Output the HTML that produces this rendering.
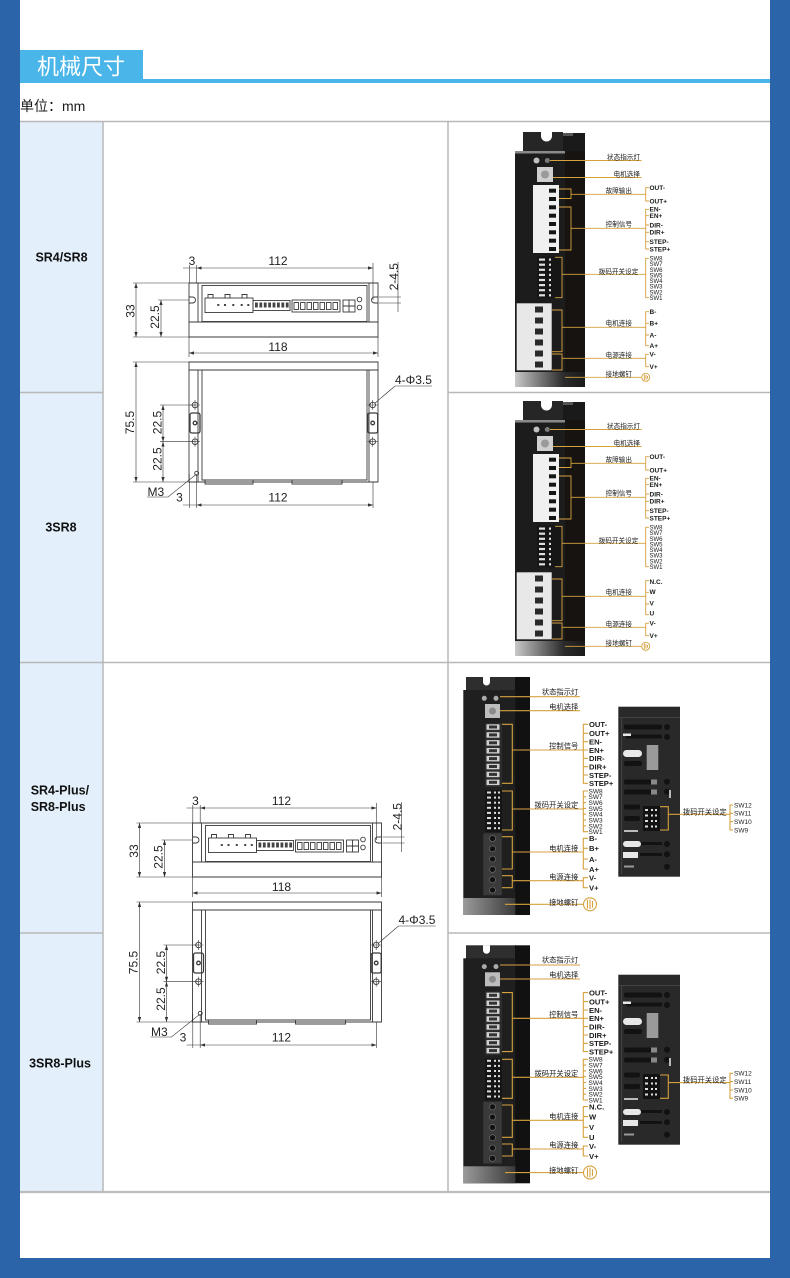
<!DOCTYPE html>
<html><head><meta charset="utf-8">
<style>
html,body{margin:0;padding:0;background:#fff;}
body{width:790px;height:1278px;overflow:hidden;position:relative;}
svg{display:block;}
.dim{font-family:"Liberation Sans",sans-serif;font-size:12px;fill:#222;}
.cn{font-family:"Liberation Sans","Noto Sans CJK SC",sans-serif;fill:#1a1a1a;}
.en{font-family:"Liberation Sans",sans-serif;fill:#1a1a1a;}
.lbl{font-family:"Liberation Sans",sans-serif;font-size:12.5px;font-weight:bold;fill:#111;}
</style></head><body>
<svg width="790" height="1278" viewBox="0 0 790 1278" xmlns="http://www.w3.org/2000/svg">
<defs>
<marker id="ar" viewBox="0 0 6 4" refX="6" refY="2" markerWidth="5" markerHeight="3.4" orient="auto-start-reverse" markerUnits="userSpaceOnUse"><path d="M0,0 L6,2 L0,4 Z" fill="#333"/></marker>
<linearGradient id="gb1" x1="0" y1="0" x2="1" y2="0"><stop offset="0" stop-color="#c8c8c8"/><stop offset="0.7" stop-color="#2a2a2a"/><stop offset="1" stop-color="#1a1a1a"/></linearGradient>
<linearGradient id="gb3" x1="0" y1="0" x2="1" y2="0"><stop offset="0" stop-color="#9a9a9a"/><stop offset="1" stop-color="#3a3a3a"/></linearGradient>
</defs>

<!-- page frame -->
<rect width="790" height="1278" fill="#fff"/>
<rect x="0" y="0" width="20" height="1278" fill="#2b64a8"/>
<rect x="770" y="0" width="20" height="1278" fill="#2b64a8"/>
<rect x="0" y="1258" width="790" height="20" fill="#2b64a8"/>

<!-- title -->
<rect x="20" y="50" width="123" height="30" fill="#49b5e9"/>
<rect x="20" y="79" width="750" height="4" fill="#49b5e9"/>
<text x="37" y="74.5" class="cn" font-size="22" style="fill:#fff">机械尺寸</text>
<text x="20" y="111" class="cn" font-size="14">单位：mm</text>

<!-- table -->
<rect x="20" y="122" width="83" height="1070" fill="#e3effa"/>
<g stroke="#b8b8b8" stroke-width="1.5" fill="none">
<path d="M20,121.5H770 M20,392.5H103 M448,392.5H770 M20,662.5H770 M20,933H103 M448,933H770 M103,121V1192 M448,121V1192"/>
<path d="M20,1192H770" stroke-width="2.2" stroke="#bdbdbd"/>
</g>
<text class="lbl" x="61.5" y="261.5" text-anchor="middle">SR4/SR8</text>
<text class="lbl" x="61" y="531.5" text-anchor="middle">3SR8</text>
<text class="lbl" x="30.7" y="794.5">SR4-Plus/</text>
<text class="lbl" x="30.7" y="811">SR8-Plus</text>
<text class="lbl" x="60" y="1067.5" text-anchor="middle">3SR8-Plus</text>

<!-- ========== DRAWING 1 ========== -->
<g>
<g fill="none" stroke="#3a3a3a" stroke-width="0.9">
<path d="M189,283H378V337H189Z M189,322H378 M198,283V322 M369,283V322"/>
<rect x="202" y="285.5" width="165" height="36"/>
<path d="M189,297H192.5A3,3 0 0 1 192.5,303H189 M378,297H374.5A3,3 0 0 0 374.5,303H378"/>
<rect x="205" y="298" width="48" height="14.5"/>
<path d="M208,298V294.5H213V298 M225,298V294.5H230V298 M242,298V294.5H247V298"/>
<rect x="253" y="300.5" width="37" height="10"/>
<rect x="292" y="300" width="48" height="12"/>
<rect x="294" y="302.5" width="4.5" height="7"/><rect x="300.5" y="302.5" width="4.5" height="7"/><rect x="307" y="302.5" width="4.5" height="7"/><rect x="313.5" y="302.5" width="4.5" height="7"/><rect x="320" y="302.5" width="4.5" height="7"/><rect x="326.5" y="302.5" width="4.5" height="7"/><rect x="333" y="302.5" width="4.5" height="7"/>
<rect x="343" y="300" width="12" height="12"/>
<path d="M349,300V312M343,306H355"/>
<circle cx="359.5" cy="299.5" r="2.3"/>
<circle cx="359.5" cy="307.5" r="2.3"/>
<path d="M189,362H378V482H189Z M189,370H378 M198,370V482 M369,370V482 M202,370V480H367V370"/>
<path d="M205,480V484H253V480 M292,480V484H342V480"/>
<rect x="190" y="413" width="10" height="20" rx="2" stroke-width="1.3"/>
<rect x="367.7" y="413" width="10" height="20" rx="2" stroke-width="1.3"/>
<circle cx="195" cy="423" r="1.8" stroke-width="1.3"/>
<circle cx="372.7" cy="423" r="1.8" stroke-width="1.3"/>
<circle cx="195" cy="405" r="2.8"/><circle cx="195" cy="441.7" r="2.8"/>
<circle cx="372.7" cy="405" r="2.8"/><circle cx="372.7" cy="441.7" r="2.8"/>
<path d="M190,405H200M195,400V410 M190,441.7H200M195,436.7V446.7 M367.7,405H377.7M372.7,400V410 M367.7,441.7H377.7M372.7,436.7V446.7" stroke-width="0.6"/>
<circle cx="196.7" cy="473.3" r="2"/>
</g>
<g fill="#444">
<rect x="217.3" y="304" width="2" height="2"/><rect x="224" y="304" width="2" height="2"/><rect x="232.3" y="304" width="2" height="2"/><rect x="240.7" y="304" width="2" height="2"/><rect x="247.3" y="304" width="2" height="2"/>
<rect x="255" y="302.5" width="2.8" height="5"/><rect x="259.4" y="302.5" width="2.8" height="5"/><rect x="263.8" y="302.5" width="2.8" height="5"/><rect x="268.2" y="302.5" width="2.8" height="5"/><rect x="272.6" y="302.5" width="2.8" height="5"/><rect x="277" y="302.5" width="2.8" height="5"/><rect x="281.4" y="302.5" width="2.8" height="5"/><rect x="285.8" y="302.5" width="2.8" height="5"/>
</g>
<g stroke="#333" stroke-width="0.6" fill="none">
<path d="M183,268H196.7 M189.3,265V283 M196.7,265V283 M373,263V300 M379,297H401 M379,303H401 M398,262V312 M133,283H189 M133,337H189 M158,300H189 M189,337V357 M378,337V357 M133,362H189 M133,482H189 M160,405H195 M160,441.7H195 M189.3,474V508 M196.7,474V508 M373,482V508 M183,505H196.7 M147,497H168L196,474.5 M395,386H432 M395,386L374.5,403.5"/>
<line x1="196.7" y1="268" x2="373" y2="268" marker-start="url(#ar)" marker-end="url(#ar)"/>
<line x1="136" y1="283" x2="136" y2="337" marker-start="url(#ar)" marker-end="url(#ar)"/>
<line x1="161" y1="300" x2="161" y2="337" marker-start="url(#ar)" marker-end="url(#ar)"/>
<line x1="189" y1="353" x2="378" y2="353" marker-start="url(#ar)" marker-end="url(#ar)"/>
<line x1="136" y1="362" x2="136" y2="482" marker-start="url(#ar)" marker-end="url(#ar)"/>
<line x1="163" y1="405" x2="163" y2="441.7" marker-start="url(#ar)" marker-end="url(#ar)"/>
<line x1="163" y1="441.7" x2="163" y2="482" marker-start="url(#ar)" marker-end="url(#ar)"/>
<line x1="196.7" y1="505" x2="373" y2="505" marker-start="url(#ar)" marker-end="url(#ar)"/>
</g>
<text class="dim" x="192" y="265" text-anchor="middle">3</text>
<text class="dim" x="278" y="265" text-anchor="middle">112</text>
<text class="dim" x="394" y="276.7" dy="4.2" text-anchor="middle" transform="rotate(-90 394 276.7)">2-4.5</text>
<text class="dim" x="130.5" y="311" dy="4.2" text-anchor="middle" transform="rotate(-90 130.5 311)">33</text>
<text class="dim" x="155" y="317" dy="4.2" text-anchor="middle" transform="rotate(-90 155 317)">22.5</text>
<text class="dim" x="278" y="351" text-anchor="middle">118</text>
<text class="dim" x="130" y="422.5" dy="4.2" text-anchor="middle" transform="rotate(-90 130 422.5)">75.5</text>
<text class="dim" x="157.5" y="422.5" dy="4.2" text-anchor="middle" transform="rotate(-90 157.5 422.5)">22.5</text>
<text class="dim" x="157.5" y="459" dy="4.2" text-anchor="middle" transform="rotate(-90 157.5 459)">22.5</text>
<text class="dim" x="395" y="384" font-size="11">4-Φ3.5</text>
<text class="dim" x="147.5" y="496" font-size="11">M3</text>
<text class="dim" x="179.5" y="501.5" text-anchor="middle">3</text>
<text class="dim" x="278" y="501.5" text-anchor="middle">112</text>
</g>

<!-- ========== DRAWING 2 ========== -->
<g transform="translate(3.5,540)">
<g fill="none" stroke="#3a3a3a" stroke-width="0.9">
<path d="M189,283H378V337H189Z M189,322H378 M198,283V322 M369,283V322"/>
<rect x="202" y="285.5" width="165" height="36"/>
<path d="M189,297H192.5A3,3 0 0 1 192.5,303H189 M378,297H374.5A3,3 0 0 0 374.5,303H378"/>
<rect x="205" y="298" width="48" height="14.5"/>
<path d="M208,298V294.5H213V298 M225,298V294.5H230V298 M242,298V294.5H247V298"/>
<rect x="253" y="300.5" width="37" height="10"/>
<rect x="292" y="300" width="48" height="12"/>
<rect x="294" y="302.5" width="4.5" height="7"/><rect x="300.5" y="302.5" width="4.5" height="7"/><rect x="307" y="302.5" width="4.5" height="7"/><rect x="313.5" y="302.5" width="4.5" height="7"/><rect x="320" y="302.5" width="4.5" height="7"/><rect x="326.5" y="302.5" width="4.5" height="7"/><rect x="333" y="302.5" width="4.5" height="7"/>
<rect x="343" y="300" width="12" height="12"/>
<path d="M349,300V312M343,306H355"/>
<circle cx="359.5" cy="299.5" r="2.3"/>
<circle cx="359.5" cy="307.5" r="2.3"/>
<path d="M189,362H378V482H189Z M189,370H378 M198,370V482 M369,370V482 M202,370V480H367V370"/>
<path d="M205,480V484H253V480 M292,480V484H342V480"/>
<rect x="190" y="413" width="10" height="20" rx="2" stroke-width="1.3"/>
<rect x="367.7" y="413" width="10" height="20" rx="2" stroke-width="1.3"/>
<circle cx="195" cy="423" r="1.8" stroke-width="1.3"/>
<circle cx="372.7" cy="423" r="1.8" stroke-width="1.3"/>
<circle cx="195" cy="405" r="2.8"/><circle cx="195" cy="441.7" r="2.8"/>
<circle cx="372.7" cy="405" r="2.8"/><circle cx="372.7" cy="441.7" r="2.8"/>
<path d="M190,405H200M195,400V410 M190,441.7H200M195,436.7V446.7 M367.7,405H377.7M372.7,400V410 M367.7,441.7H377.7M372.7,436.7V446.7" stroke-width="0.6"/>
<circle cx="196.7" cy="473.3" r="2"/>
</g>
<g fill="#444">
<rect x="217.3" y="304" width="2" height="2"/><rect x="224" y="304" width="2" height="2"/><rect x="232.3" y="304" width="2" height="2"/><rect x="240.7" y="304" width="2" height="2"/><rect x="247.3" y="304" width="2" height="2"/>
<rect x="255" y="302.5" width="2.8" height="5"/><rect x="259.4" y="302.5" width="2.8" height="5"/><rect x="263.8" y="302.5" width="2.8" height="5"/><rect x="268.2" y="302.5" width="2.8" height="5"/><rect x="272.6" y="302.5" width="2.8" height="5"/><rect x="277" y="302.5" width="2.8" height="5"/><rect x="281.4" y="302.5" width="2.8" height="5"/><rect x="285.8" y="302.5" width="2.8" height="5"/>
</g>
<g stroke="#333" stroke-width="0.6" fill="none">
<path d="M183,268H196.7 M189.3,265V283 M196.7,265V283 M373,263V300 M379,297H401 M379,303H401 M398,262V312 M133,283H189 M133,337H189 M158,300H189 M189,337V357 M378,337V357 M133,362H189 M133,482H189 M160,405H195 M160,441.7H195 M189.3,474V508 M196.7,474V508 M373,482V508 M183,505H196.7 M147,497H168L196,474.5 M395,386H432 M395,386L374.5,403.5"/>
<line x1="196.7" y1="268" x2="373" y2="268" marker-start="url(#ar)" marker-end="url(#ar)"/>
<line x1="136" y1="283" x2="136" y2="337" marker-start="url(#ar)" marker-end="url(#ar)"/>
<line x1="161" y1="300" x2="161" y2="337" marker-start="url(#ar)" marker-end="url(#ar)"/>
<line x1="189" y1="353" x2="378" y2="353" marker-start="url(#ar)" marker-end="url(#ar)"/>
<line x1="136" y1="362" x2="136" y2="482" marker-start="url(#ar)" marker-end="url(#ar)"/>
<line x1="163" y1="405" x2="163" y2="441.7" marker-start="url(#ar)" marker-end="url(#ar)"/>
<line x1="163" y1="441.7" x2="163" y2="482" marker-start="url(#ar)" marker-end="url(#ar)"/>
<line x1="196.7" y1="505" x2="373" y2="505" marker-start="url(#ar)" marker-end="url(#ar)"/>
</g>
<text class="dim" x="192" y="265" text-anchor="middle">3</text>
<text class="dim" x="278" y="265" text-anchor="middle">112</text>
<text class="dim" x="394" y="276.7" dy="4.2" text-anchor="middle" transform="rotate(-90 394 276.7)">2-4.5</text>
<text class="dim" x="130.5" y="311" dy="4.2" text-anchor="middle" transform="rotate(-90 130.5 311)">33</text>
<text class="dim" x="155" y="317" dy="4.2" text-anchor="middle" transform="rotate(-90 155 317)">22.5</text>
<text class="dim" x="278" y="351" text-anchor="middle">118</text>
<text class="dim" x="130" y="422.5" dy="4.2" text-anchor="middle" transform="rotate(-90 130 422.5)">75.5</text>
<text class="dim" x="157.5" y="422.5" dy="4.2" text-anchor="middle" transform="rotate(-90 157.5 422.5)">22.5</text>
<text class="dim" x="157.5" y="459" dy="4.2" text-anchor="middle" transform="rotate(-90 157.5 459)">22.5</text>
<text class="dim" x="395" y="384" font-size="11">4-Φ3.5</text>
<text class="dim" x="147.5" y="496" font-size="11">M3</text>
<text class="dim" x="179.5" y="501.5" text-anchor="middle">3</text>
<text class="dim" x="278" y="501.5" text-anchor="middle">112</text>
</g>

<!-- ========== PHOTO ROW 1 (shapes) ========== -->
<g id="p1">
<path d="M523,153V132H541V136A5.5,5.5 0 0 0 552,136V132H563V153Z" fill="#262626"/>
<rect x="563" y="133" width="22" height="20" fill="#1a1a1a"/>
<rect x="563" y="133" width="10" height="3" fill="#555"/>
<rect x="515" y="151" width="70" height="236" fill="#1c1c1c"/>
<rect x="565" y="151" width="20" height="236" fill="#161311"/>
<rect x="515" y="151" width="50" height="2.5" fill="#8a8a8a"/>
<rect x="515" y="372" width="70" height="15" fill="url(#gb1)"/>
<circle cx="536.5" cy="160.5" r="3" fill="#c0c0c0"/>
<circle cx="547.3" cy="160.5" r="2.5" fill="#7a7a7a"/>
<rect x="537" y="167" width="16" height="15" fill="#cfcfcf"/>
<circle cx="545" cy="174.5" r="4" fill="#9a9a9a"/>
<rect x="533" y="185" width="26" height="68" fill="#f0f0f0"/>
<g fill="#151515">
<rect x="549" y="188.7" width="7" height="4"/><rect x="549" y="197" width="7" height="4"/><rect x="549" y="205.3" width="7" height="4"/><rect x="549" y="213.7" width="7" height="4"/><rect x="549" y="222" width="7" height="4"/><rect x="549" y="230.3" width="7" height="4"/><rect x="549" y="238.7" width="7" height="4"/><rect x="549" y="247" width="7" height="4"/>
</g>
<rect x="537" y="256.5" width="25" height="42" fill="#161616"/>
<g fill="#e0e0e0">
<rect x="539" y="258.5" width="6" height="2.2"/><rect x="549" y="258.5" width="2" height="2.2"/>
<rect x="539" y="263.6" width="6" height="2.2"/><rect x="549" y="263.6" width="2" height="2.2"/>
<rect x="539" y="268.7" width="6" height="2.2"/><rect x="549" y="268.7" width="2" height="2.2"/>
<rect x="539" y="273.8" width="6" height="2.2"/><rect x="549" y="273.8" width="2" height="2.2"/>
<rect x="539" y="278.9" width="6" height="2.2"/><rect x="549" y="278.9" width="2" height="2.2"/>
<rect x="539" y="284" width="6" height="2.2"/><rect x="549" y="284" width="2" height="2.2"/>
<rect x="539" y="289.1" width="6" height="2.2"/><rect x="549" y="289.1" width="2" height="2.2"/>
<rect x="539" y="294.2" width="6" height="2.2"/><rect x="549" y="294.2" width="2" height="2.2"/>
</g>
<rect x="516.7" y="303.3" width="35" height="67" fill="#e8e8e8"/>
<g fill="#2a2a2a">
<rect x="535" y="306.5" width="8" height="6"/><rect x="535" y="317.5" width="8" height="6"/><rect x="535" y="328.5" width="8" height="6"/><rect x="535" y="339.5" width="8" height="6"/><rect x="535" y="350.5" width="8" height="6"/><rect x="535" y="361.5" width="8" height="6"/>
</g>
</g>
<g id="o1" fill="none" stroke="#d6a23e" stroke-width="0.9">
<path d="M550,160.5H641.5 M553,177.5H641.5 M559,189H571V198.5H559 M571,194.3H645.7 M649,187.7H645.7V201H649 M559,207H571V250H559 M571,228.3H645.7 M649,209.3H645.7V249H649 M645.7,215.7H649 M645.7,225H649 M645.7,232.3H649 M645.7,241.7H649 M555,257.3H562V297.7H555 M562,274.3H645.7 M649,258.3H645.7V297.7H649 M552,310H562V351.7H552 M562,327.3H645.7 M649,311.7H645.7V345.7H649 M645.7,323.3H649 M645.7,335H649 M552,354H562V370H552 M562,358.3H645.7 M649,354.3H645.7V366.7H649 M565,377.3H641.7"/>
<circle cx="645.7" cy="377.3" r="4"/>
<path d="M644.3,374.5V380 M646,375V379.6 M647.5,376V378.6"/>
</g>
<use href="#p1" transform="translate(0,269)"/>
<use href="#o1" transform="translate(0,269)"/>

<!-- row 1 texts -->
<g>
<g class="cn" font-size="6.6" text-anchor="end">
<text x="640" y="159.6">状态指示灯</text>
<text x="640" y="176.6">电机选择</text>
<text x="632" y="193">故障输出</text>
<text x="632" y="226.3">控制信号</text>
<text x="638.3" y="274">拨码开关设定</text>
<text x="632" y="325.6">电机连接</text>
<text x="632" y="357.3">电源连接</text>
<text x="632" y="376.3">接地螺钉</text>
</g>
<g class="en" font-size="6.5" font-weight="bold">
<text x="649.5" y="190">OUT-</text><text x="649.5" y="203.3">OUT+</text>
<text x="649.5" y="211.6">EN-</text><text x="649.5" y="218">EN+</text>
<text x="649.5" y="227.3">DIR-</text><text x="649.5" y="234.6">DIR+</text>
<text x="649.5" y="244">STEP-</text><text x="649.5" y="251.3">STEP+</text>
<text x="649.5" y="314">B-</text><text x="649.5" y="325.6">B+</text>
<text x="649.5" y="337.3">A-</text><text x="649.5" y="348">A+</text>
<text x="649.5" y="356.6">V-</text><text x="649.5" y="369">V+</text>
</g>
<g class="en" font-size="6">
<text x="649.5" y="260.5">SW8</text><text x="649.5" y="266.1">SW7</text><text x="649.5" y="271.8">SW6</text><text x="649.5" y="277.4">SW5</text><text x="649.5" y="283">SW4</text><text x="649.5" y="288.6">SW3</text><text x="649.5" y="294.3">SW2</text><text x="649.5" y="299.9">SW1</text>
</g>
</g>
<!-- row 2 texts -->
<g transform="translate(0,269)">
<g class="cn" font-size="6.6" text-anchor="end">
<text x="640" y="159.6">状态指示灯</text>
<text x="640" y="176.6">电机选择</text>
<text x="632" y="193">故障输出</text>
<text x="632" y="226.3">控制信号</text>
<text x="638.3" y="274">拨码开关设定</text>
<text x="632" y="325.6">电机连接</text>
<text x="632" y="357.3">电源连接</text>
<text x="632" y="376.3">接地螺钉</text>
</g>
<g class="en" font-size="6.5" font-weight="bold">
<text x="649.5" y="190">OUT-</text><text x="649.5" y="203.3">OUT+</text>
<text x="649.5" y="211.6">EN-</text><text x="649.5" y="218">EN+</text>
<text x="649.5" y="227.3">DIR-</text><text x="649.5" y="234.6">DIR+</text>
<text x="649.5" y="244">STEP-</text><text x="649.5" y="251.3">STEP+</text>
<text x="649.5" y="315">N.C.</text><text x="649.5" y="325">W</text>
<text x="649.5" y="336.6">V</text><text x="649.5" y="346.6">U</text>
<text x="649.5" y="356.6">V-</text><text x="649.5" y="369">V+</text>
</g>
<g class="en" font-size="6">
<text x="649.5" y="260.5">SW8</text><text x="649.5" y="266.1">SW7</text><text x="649.5" y="271.8">SW6</text><text x="649.5" y="277.4">SW5</text><text x="649.5" y="283">SW4</text><text x="649.5" y="288.6">SW3</text><text x="649.5" y="294.3">SW2</text><text x="649.5" y="299.9">SW1</text>
</g>
</g>

<!-- ========== PHOTO ROW 3 (shapes) ========== -->
<g id="p3">
<rect x="466" y="677" width="50" height="14" fill="#2e2e2e"/>
<path d="M483,677V682A3.5,3.5 0 0 0 490,682V677Z" fill="#fff"/>
<rect x="515" y="677" width="15" height="238" fill="#111"/>
<rect x="463.3" y="690" width="52" height="225" fill="#1f1f1f"/>
<rect x="463.3" y="898" width="52" height="17" fill="url(#gb3)"/>
<circle cx="484.3" cy="698.3" r="2.5" fill="#aaa"/>
<circle cx="496" cy="698.3" r="2.5" fill="#aaa"/>
<rect x="485" y="704" width="15" height="14" fill="#bdbdbd"/>
<circle cx="492.5" cy="711" r="3.5" fill="#8a8a8a"/>
<rect x="485" y="723" width="17" height="64" fill="#2c2c2c"/>
<g fill="#cfcfcf">
<rect x="486.5" y="724.3" width="13" height="5.5"/><rect x="486.5" y="732.2" width="13" height="5.5"/><rect x="486.5" y="740.1" width="13" height="5.5"/><rect x="486.5" y="748" width="13" height="5.5"/><rect x="486.5" y="755.9" width="13" height="5.5"/><rect x="486.5" y="763.8" width="13" height="5.5"/><rect x="486.5" y="771.7" width="13" height="5.5"/><rect x="486.5" y="779.6" width="13" height="5.5"/>
</g>
<g fill="#333">
<rect x="489" y="725.5" width="8" height="3"/><rect x="489" y="733.4" width="8" height="3"/><rect x="489" y="741.3" width="8" height="3"/><rect x="489" y="749.2" width="8" height="3"/><rect x="489" y="757.1" width="8" height="3"/><rect x="489" y="765" width="8" height="3"/><rect x="489" y="772.9" width="8" height="3"/><rect x="489" y="780.8" width="8" height="3"/>
</g>
<rect x="485" y="790" width="17" height="42" fill="#151515"/>
<g fill="#ddd">
<rect x="487" y="791.5" width="4" height="2"/><rect x="494" y="791.5" width="2" height="2"/><rect x="498" y="791.5" width="2" height="2"/>
<rect x="487" y="796.6" width="4" height="2"/><rect x="494" y="796.6" width="2" height="2"/><rect x="498" y="796.6" width="2" height="2"/>
<rect x="487" y="801.7" width="4" height="2"/><rect x="494" y="801.7" width="2" height="2"/><rect x="498" y="801.7" width="2" height="2"/>
<rect x="487" y="806.8" width="4" height="2"/><rect x="494" y="806.8" width="2" height="2"/><rect x="498" y="806.8" width="2" height="2"/>
<rect x="487" y="811.9" width="4" height="2"/><rect x="494" y="811.9" width="2" height="2"/><rect x="498" y="811.9" width="2" height="2"/>
<rect x="487" y="817" width="4" height="2"/><rect x="494" y="817" width="2" height="2"/><rect x="498" y="817" width="2" height="2"/>
<rect x="487" y="822.1" width="4" height="2"/><rect x="494" y="822.1" width="2" height="2"/><rect x="498" y="822.1" width="2" height="2"/>
<rect x="487" y="827.2" width="4" height="2"/><rect x="494" y="827.2" width="2" height="2"/><rect x="498" y="827.2" width="2" height="2"/>
</g>
<rect x="483.3" y="833.3" width="18.5" height="62" fill="#3a3a3a"/>
<g fill="#111" stroke="#777" stroke-width="0.6">
<circle cx="492.5" cy="838.5" r="3"/><circle cx="492.5" cy="848.8" r="3"/><circle cx="492.5" cy="859.1" r="3"/><circle cx="492.5" cy="869.4" r="3"/><circle cx="492.5" cy="879.7" r="3"/><circle cx="492.5" cy="890" r="3"/>
</g>
</g>
<g id="b3">
<rect x="618.3" y="706.7" width="61.7" height="170" fill="#292929"/>
<path d="M618.3,717.5H680 M621.7,717.5V874" stroke="#4a4a4a" stroke-width="0.8" fill="none"/>
<g fill="#121212">
<rect x="624" y="724.5" width="38" height="5" rx="2"/>
<rect x="626" y="734.5" width="36" height="4" rx="1.5"/>
<rect x="624" y="761" width="18" height="5" rx="2"/>
<rect x="624" y="779.5" width="30" height="5" rx="2"/>
<rect x="624" y="789.5" width="30" height="5" rx="2"/>
<rect x="624" y="804.5" width="16" height="5" rx="2"/>
<rect x="624" y="816" width="16" height="5" rx="2"/>
<rect x="643" y="806" width="17" height="25"/>
<rect x="640" y="842" width="22" height="3"/>
<rect x="640" y="853" width="22" height="3"/>
<circle cx="667" cy="727" r="3"/><circle cx="667" cy="737" r="3"/><circle cx="667" cy="781.7" r="3"/><circle cx="667" cy="791.7" r="3"/><circle cx="667" cy="844" r="3"/><circle cx="667" cy="854.3" r="3"/><circle cx="667" cy="866.7" r="3"/>
</g>
<g fill="#e8e8e8">
<rect x="623" y="733.5" width="8" height="2.5"/>
<rect x="623" y="750" width="19" height="7" rx="3.5"/>
<rect x="623" y="841" width="18" height="6" rx="3"/>
<rect x="623" y="852" width="15" height="6"/>
</g>
<rect x="646.7" y="745" width="11.6" height="25" fill="#9a9a9a"/>
<rect x="651" y="779.5" width="6" height="5" fill="#888"/>
<rect x="651" y="789.5" width="6" height="5" fill="#888"/>
<g fill="#ddd">
<rect x="645" y="809" width="3" height="2"/><rect x="651" y="809" width="2" height="2"/><rect x="655" y="809" width="2" height="2"/>
<rect x="645" y="814.5" width="3" height="2"/><rect x="651" y="814.5" width="2" height="2"/><rect x="655" y="814.5" width="2" height="2"/>
<rect x="645" y="820" width="3" height="2"/><rect x="651" y="820" width="2" height="2"/><rect x="655" y="820" width="2" height="2"/>
<rect x="645" y="825.5" width="3" height="2"/><rect x="651" y="825.5" width="2" height="2"/><rect x="655" y="825.5" width="2" height="2"/>
</g>
<rect x="624" y="830" width="14" height="2" fill="#bbb"/>
<rect x="624" y="865.5" width="10" height="2" fill="#999"/>
<rect x="669" y="790" width="2" height="8" fill="#bbb"/>
</g>
<g id="o3" fill="none" stroke="#d6a23e" stroke-width="1.1">
<path d="M500,696.7H580 M500,710.7H580 M502,724.3H512.3V783.3H502 M512.3,750H583.3 M588,724.3H583.3V783.3H588 M583.3,733.3H588 M583.3,741.7H588 M583.3,750H588 M583.3,758.3H588 M583.3,766.7H588 M583.3,775H588 M502,791H512.3V830H502 M512.3,809H583.3 M588,791H583.3V831.7H588 M583.3,796.8H586 M583.3,802.6H586 M583.3,808.4H586 M583.3,814.2H586 M583.3,820.1H586 M583.3,825.9H586 M502,836.7H512.3V869H502 M512.3,852H583.3 M588,838.3H583.3V869H588 M583.3,848.3H588 M583.3,859H588 M502,875.7H512.3V887.7H502 M512.3,880.7H583.3 M588,877.7H583.3V887.7H588 M505,904.3H583.5 M660,806.7H668.3V830H660 M668.3,814.3H730 M733,805H730V830H733 M730,813.3H733 M730,821.7H733"/>
<circle cx="590" cy="904.3" r="6.5"/>
<path d="M587.5,900V908.6 M590,899.5V909 M592.5,901V907.6"/>
</g>
<use href="#p3" transform="translate(0,268.3)"/>
<use href="#b3" transform="translate(0,268)"/>
<use href="#o3" transform="translate(0,268.3)"/>

<!-- row 3 texts -->
<g>
<g class="cn" font-size="7.3" text-anchor="end">
<text x="578.3" y="694.3">状态指示灯</text>
<text x="578.3" y="709.3">电机选择</text>
<text x="578.3" y="748.6">控制信号</text>
<text x="578.3" y="807.6">拨码开关设定</text>
<text x="578.3" y="850.9">电机连接</text>
<text x="578.3" y="879.3">电源连接</text>
<text x="578.3" y="904.9">接地螺钉</text>
<text x="726.7" y="814.3">拨码开关设定</text>
</g>
<g class="en" font-size="7.6" font-weight="bold">
<text x="589" y="727.2">OUT-</text><text x="589" y="736.2">OUT+</text>
<text x="589" y="744.6">EN-</text><text x="589" y="752.9">EN+</text>
<text x="589" y="761.2">DIR-</text><text x="589" y="769.6">DIR+</text>
<text x="589" y="777.9">STEP-</text><text x="589" y="786.2">STEP+</text>
<text x="589" y="841.2">B-</text><text x="589" y="851.2">B+</text>
<text x="589" y="861.9">A-</text><text x="589" y="871.9">A+</text>
<text x="589" y="880.6">V-</text><text x="589" y="890.6">V+</text>
</g>
<g class="en" font-size="6.5">
<text x="588.5" y="793.4">SW8</text><text x="588.5" y="799.2">SW7</text><text x="588.5" y="805">SW6</text><text x="588.5" y="810.8">SW5</text><text x="588.5" y="816.6">SW4</text><text x="588.5" y="822.5">SW3</text><text x="588.5" y="828.3">SW2</text><text x="588.5" y="834.1">SW1</text>
<text x="734" y="807.4">SW12</text><text x="734" y="815.7">SW11</text><text x="734" y="824.1">SW10</text><text x="734" y="832.4">SW9</text>
</g>
</g>
<!-- row 4 texts -->
<g transform="translate(0,268.3)">
<g class="cn" font-size="7.3" text-anchor="end">
<text x="578.3" y="694.3">状态指示灯</text>
<text x="578.3" y="709.3">电机选择</text>
<text x="578.3" y="748.6">控制信号</text>
<text x="578.3" y="807.6">拨码开关设定</text>
<text x="578.3" y="850.9">电机连接</text>
<text x="578.3" y="879.3">电源连接</text>
<text x="578.3" y="904.9">接地螺钉</text>
<text x="726.7" y="814.3">拨码开关设定</text>
</g>
<g class="en" font-size="7.6" font-weight="bold">
<text x="589" y="727.2">OUT-</text><text x="589" y="736.2">OUT+</text>
<text x="589" y="744.6">EN-</text><text x="589" y="752.9">EN+</text>
<text x="589" y="761.2">DIR-</text><text x="589" y="769.6">DIR+</text>
<text x="589" y="777.9">STEP-</text><text x="589" y="786.2">STEP+</text>
<text x="589" y="841.2">N.C.</text><text x="589" y="851.2">W</text>
<text x="589" y="861.9">V</text><text x="589" y="871.9">U</text>
<text x="589" y="880.6">V-</text><text x="589" y="890.6">V+</text>
</g>
<g class="en" font-size="6.5">
<text x="588.5" y="793.4">SW8</text><text x="588.5" y="799.2">SW7</text><text x="588.5" y="805">SW6</text><text x="588.5" y="810.8">SW5</text><text x="588.5" y="816.6">SW4</text><text x="588.5" y="822.5">SW3</text><text x="588.5" y="828.3">SW2</text><text x="588.5" y="834.1">SW1</text>
<text x="734" y="807.4">SW12</text><text x="734" y="815.7">SW11</text><text x="734" y="824.1">SW10</text><text x="734" y="832.4">SW9</text>
</g>
</g>
</svg>
</body></html>
